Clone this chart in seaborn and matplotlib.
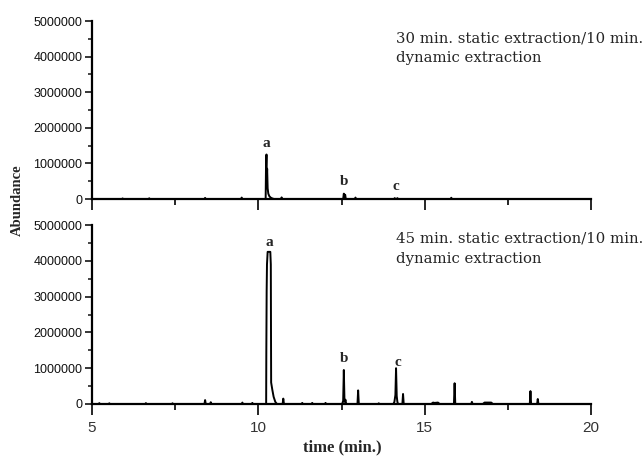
import matplotlib
matplotlib.use("Agg")
import matplotlib.pyplot as plt
import seaborn as sns
from matplotlib.ticker import MultipleLocator

sns.set_theme(style="ticks")
plt.rcParams['font.family'] = ['Liberation Sans', 'DejaVu Sans']

# ---- data: chromatogram traces (time in min., abundance) ----
top_time = [5.0, 5.9, 5.92, 5.94, 6.7, 6.72, 6.74, 8.38, 8.4, 8.42, 9.48, 9.5, 9.52,
            10.22, 10.23, 10.245, 10.255, 10.265, 10.28, 10.30, 10.33, 10.37, 10.42, 10.47,
            10.68, 10.7, 10.72, 12.55, 12.57, 12.59, 12.61, 12.63, 12.9, 12.92, 12.94,
            14.08, 14.1, 14.12, 14.16, 14.18, 14.2, 15.78, 15.8, 15.82, 20.0]
top_abund = [0, 0, 15000, 0, 0, 20000, 0, 0, 30000, 0, 0, 40000, 0,
             0, 850000, 1250000, 600000, 850000, 300000, 150000, 80000, 40000, 15000, 0,
             0, 45000, 0, 0, 150000, 20000, 120000, 0, 0, 40000, 0,
             0, 25000, 0, 0, 25000, 0, 0, 35000, 0, 0]

bot_time = [5.0, 5.2, 5.22, 5.24, 5.5, 5.52, 5.54, 6.6, 6.62, 6.64, 7.4, 7.42, 7.44,
            8.38, 8.4, 8.42, 8.55, 8.57, 8.59, 9.5, 9.52, 9.54, 9.8, 9.82, 9.84,
            10.235, 10.24, 10.25, 10.26, 10.28, 10.36, 10.375, 10.385, 10.42, 10.46, 10.51, 10.56,
            10.73, 10.75, 10.77, 11.3, 11.32, 11.34, 11.6, 11.62, 11.64, 12.0, 12.02, 12.04,
            12.52, 12.55, 12.57, 12.59, 12.62, 12.64, 12.98, 13.0, 13.02,
            13.6, 13.62, 13.64, 14.06, 14.09, 14.12, 14.14, 14.16, 14.18, 14.2, 14.33,
            14.35, 14.37, 15.2, 15.25, 15.3, 15.4, 15.45, 15.88, 15.9, 15.92,
            16.4, 16.42, 16.44, 16.75, 16.8, 16.9, 17.0, 17.05, 18.16, 18.18, 18.2,
            18.38, 18.4, 18.42, 20.0]
bot_abund = [0, 0, 25000, 0, 0, 20000, 0, 0, 25000, 0, 0, 20000, 0,
             0, 110000, 0, 0, 50000, 0, 0, 40000, 0, 0, 30000, 0,
             0, 1400000, 3150000, 3900000, 4250000, 4250000, 3900000, 600000, 400000, 200000, 60000, 0,
             0, 150000, 0, 0, 30000, 0, 0, 30000, 0, 0, 30000, 0,
             0, 90000, 950000, 60000, 120000, 0, 0, 380000, 0,
             0, 20000, 0, 0, 60000, 250000, 1000000, 220000, 60000, 0, 0,
             280000, 0, 0, 40000, 30000, 40000, 0, 0, 580000, 0,
             0, 60000, 0, 0, 40000, 40000, 40000, 0, 0, 360000, 0,
             0, 140000, 0, 0]

panel_titles = ["30 min. static extraction/10 min.", "45 min. static extraction/10 min."]
panel_sub = "dynamic extraction"
peak_labels = ["a", "b", "c"]
top_label_pos = [(10.23, 1570000), (12.57, 480000), (14.14, 365000)]
bot_label_pos = [(10.33, 4520000), (12.57, 1260000), (14.18, 1170000)]

W, H = 643, 459
fig = plt.figure(figsize=(W / 100, H / 100), dpi=100)

def rect(x0, y0, x1, y1):
    return [x0 / W, 1 - y1 / H, (x1 - x0) / W, (y1 - y0) / H]

ax1 = fig.add_axes(rect(92, 21, 591, 199))
ax2 = fig.add_axes(rect(92, 225, 591, 404))

serif = ['Liberation Serif', 'DejaVu Serif']
wide_serif = ['DejaVu Serif']

for ax, t, a, title, lpos, yb in [
        (ax1, top_time, top_abund, panel_titles[0], top_label_pos, (4410000, 3850000)),
        (ax2, bot_time, bot_abund, panel_titles[1], bot_label_pos, (4520000, 3940000))]:
    sns.lineplot(x=t, y=a, ax=ax, estimator=None, sort=False, color='black', lw=1.4)
    ax.set_xlim(5, 20)
    ax.set_ylim(0, 5000000)
    ax.xaxis.set_major_locator(MultipleLocator(5))
    ax.xaxis.set_minor_locator(MultipleLocator(2.5))
    ax.yaxis.set_major_locator(MultipleLocator(1000000))
    ax.yaxis.set_minor_locator(MultipleLocator(500000))
    ax.tick_params(axis='x', which='major', length=8, width=1.4, direction='out',
                   labelsize=11, labelcolor='#333333', pad=4)
    ax.tick_params(axis='x', which='minor', length=4, width=1.4, direction='out')
    ax.tick_params(axis='y', which='major', length=5, width=1.3, direction='out',
                   labelsize=9, labelcolor='#111111', pad=2)
    ax.tick_params(axis='y', which='minor', length=3, width=1.2, direction='out')
    ax.set_yticklabels([f"{int(v)}" for v in ax.get_yticks()])
    sns.despine(ax=ax)
    for s in ['left', 'bottom']:
        ax.spines[s].set_linewidth(1.6)
        ax.spines[s].set_color('black')
    ax.set_xlabel('')
    ax.set_ylabel('')
    ax.text(14.14, yb[0], title, family=wide_serif, fontsize=10.7, ha='left', va='baseline')
    ax.text(14.14, yb[1], panel_sub, family=wide_serif, fontsize=10.7, ha='left', va='baseline')
    for lab, (x, y) in zip(peak_labels, lpos):
        ax.text(x, y, lab, family=serif, fontsize=11, fontweight='bold', ha='center', va='center')
    ax.set_facecolor('white')

ax1.tick_params(axis='x', labelbottom=False)

fig.text(17.5 / W, 1 - 200 / H, "Abundance", family=serif, fontsize=10.5, fontweight='bold',
         rotation=90, ha='center', va='center')
fig.text(342 / W, 1 - 447 / H, "time (min.)", family=serif, fontsize=12, fontweight='bold',
         ha='center', va='center')

fig.savefig("out.png", dpi=100, facecolor='white')
